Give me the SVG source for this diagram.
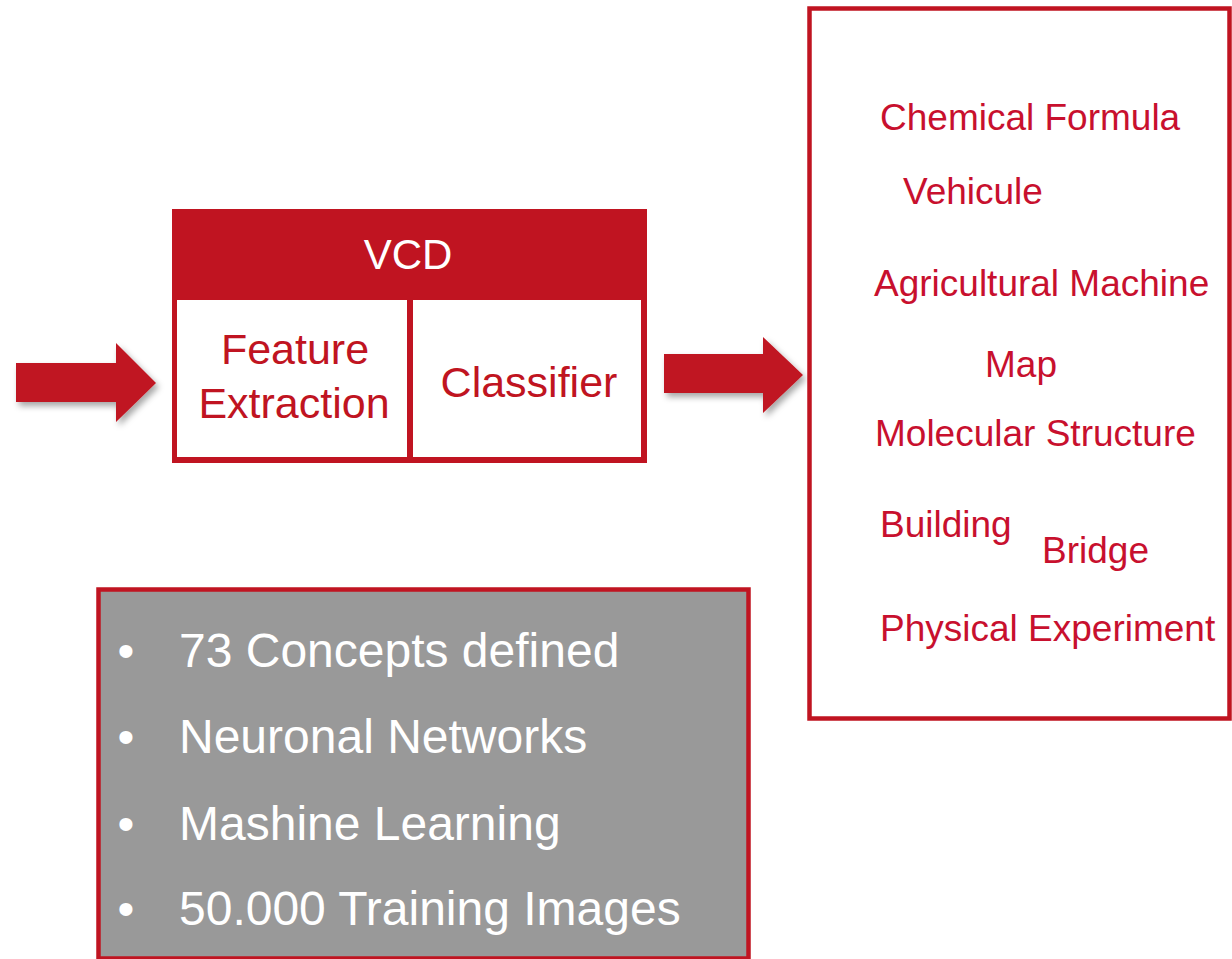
<svg xmlns="http://www.w3.org/2000/svg" width="1232" height="959" viewBox="0 0 1232 959">
  <defs>
    <filter id="shadow" x="-20%" y="-30%" width="150%" height="170%">
      <feDropShadow dx="3" dy="4" stdDeviation="3" flood-color="#000" flood-opacity="0.35"/>
    </filter>
  </defs>
  <style>
    .red { fill: #c01421; }
    .lbl { font-family: "Liberation Sans", Arial, sans-serif; fill: #c01421; }
    .cat { font-family: "Liberation Sans", Arial, sans-serif; fill: #c8102e; font-size: 37px; }
    .bul { font-family: "Liberation Sans", Arial, sans-serif; fill: #ffffff; font-size: 48px; }
  </style>
  <rect x="0" y="0" width="1232" height="959" fill="#ffffff"/>

  <g id="connectors" filter="url(#shadow)">
    <polygon class="red" points="16,363 116,363 116,343 156,383 116,422 116,402 16,402"/>
    <polygon class="red" points="664,354 763,354 763,337 803,375 763,413 763,393 664,393"/>
  </g>

  <g id="vcd">
    <rect x="172" y="209" width="475" height="254" class="red"/>
    <rect x="177" y="300" width="230" height="157" fill="#ffffff"/>
    <rect x="413" y="300" width="228" height="157" fill="#ffffff"/>
    <text x="408" y="269" text-anchor="middle" font-family="'Liberation Sans', Arial, sans-serif" font-size="42" fill="#ffffff">VCD</text>
  </g>

  <g id="feature-extraction">
    <text class="lbl" x="295" y="364" text-anchor="middle" font-size="43">Feature</text>
    <text class="lbl" x="294" y="418" text-anchor="middle" font-size="43">Extraction</text>
  </g>

  <g id="classifier">
    <text class="lbl" x="529" y="397" text-anchor="middle" font-size="43">Classifier</text>
  </g>

  <g id="categories">
    <rect x="809.5" y="8.5" width="420" height="710" fill="#ffffff" stroke="#c01421" stroke-width="4.5"/>
    <text class="cat" x="880" y="130">Chemical Formula</text>
    <text class="cat" x="903" y="204">Vehicule</text>
    <text class="cat" x="874" y="296">Agricultural Machine</text>
    <text class="cat" x="985" y="377">Map</text>
    <text class="cat" x="875" y="446">Molecular Structure</text>
    <text class="cat" x="880" y="537">Building</text>
    <text class="cat" x="1042" y="563">Bridge</text>
    <text class="cat" x="880" y="641">Physical Experiment</text>
  </g>

  <g id="facts">
    <rect x="98.5" y="589.5" width="650" height="369" fill="#999999" stroke="#c01421" stroke-width="4.5"/>
    <text class="bul" x="126" y="667" text-anchor="middle">•</text>
    <text class="bul" x="179" y="667">73 Concepts defined</text>
    <text class="bul" x="126" y="753" text-anchor="middle">•</text>
    <text class="bul" x="179" y="753">Neuronal Networks</text>
    <text class="bul" x="126" y="840" text-anchor="middle">•</text>
    <text class="bul" x="179" y="840">Mashine Learning</text>
    <text class="bul" x="126" y="925" text-anchor="middle">•</text>
    <text class="bul" x="179" y="925">50.000 Training Images</text>
  </g>
</svg>
